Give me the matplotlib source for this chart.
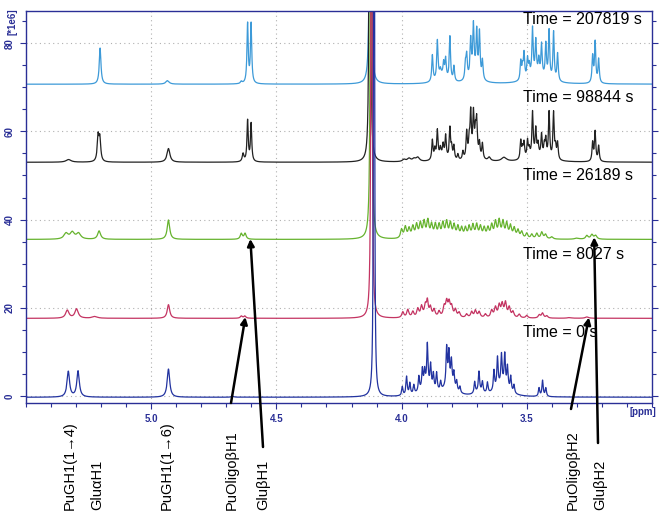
import numpy as np
import matplotlib.pyplot as plt
from matplotlib.ticker import MultipleLocator

plt.rcParams['font.family'] = ['Liberation Sans', 'DejaVu Sans']

# peak tables: (ppm, height [*1e6], half width [ppm])
peaks_t0 = [
    (5.331, 5.8, 0.006), (5.292, 5.9, 0.006), (4.931, 6.4, 0.006), (4.675, 0.2, 0.006),
    (4.110, 500, 0.0011),
    (3.997, 2.0, 0.003), (3.980, 4.2, 0.003), (3.967, 2.6, 0.003), (3.951, 2.0, 0.003),
    (3.931, 3.4, 0.003), (3.917, 4.4, 0.003), (3.908, 3.6, 0.003), (3.897, 9.5, 0.003),
    (3.884, 5.2, 0.003), (3.873, 3.5, 0.003), (3.860, 4.0, 0.003), (3.844, 2.0, 0.003),
    (3.820, 8.5, 0.003), (3.811, 7.0, 0.003), (3.801, 5.5, 0.003), (3.791, 3.5, 0.003),
    (3.780, 2.2, 0.003), (3.767, 1.4, 0.003), (3.708, 2.6, 0.003), (3.691, 4.5, 0.003),
    (3.677, 2.4, 0.003), (3.657, 2.4, 0.003), (3.631, 4.5, 0.003), (3.617, 6.8, 0.003),
    (3.601, 6.8, 0.003), (3.588, 7.2, 0.003), (3.577, 5.0, 0.003), (3.564, 3.4, 0.003),
    (3.551, 1.9, 0.003), (3.451, 1.9, 0.003), (3.437, 3.6, 0.003), (3.424, 1.9, 0.003),
    (3.90, 2.0, 0.03), (3.81, 2.5, 0.025), (3.60, 2.5, 0.03), (3.69, 0.8, 0.02),
]
peaks_t8027 = [
    (5.335, 1.8, 0.008), (5.298, 2.1, 0.008), (5.225, 0.4, 0.012), (4.931, 3.1, 0.006),
    (4.640, 0.5, 0.005), (4.626, 0.5, 0.005), (4.120, 500, 0.0012),
    (3.995, 1.3, 0.005), (3.975, 1.8, 0.005), (3.955, 1.3, 0.005), (3.935, 1.9, 0.005),
    (3.920, 2.4, 0.005), (3.905, 2.5, 0.005), (3.897, 3.3, 0.004), (3.885, 2.2, 0.005),
    (3.870, 1.7, 0.005), (3.850, 1.3, 0.005), (3.830, 2.2, 0.005), (3.820, 3.2, 0.005),
    (3.810, 3.0, 0.005), (3.800, 2.2, 0.005), (3.785, 1.7, 0.005), (3.770, 1.1, 0.005),
    (3.740, 0.8, 0.005), (3.720, 1.3, 0.005), (3.705, 1.6, 0.005), (3.690, 1.3, 0.005),
    (3.665, 0.8, 0.005), (3.640, 1.6, 0.005), (3.625, 2.2, 0.005), (3.610, 2.6, 0.005),
    (3.598, 2.8, 0.005), (3.585, 3.2, 0.005), (3.570, 2.2, 0.005), (3.555, 1.3, 0.005),
    (3.530, 0.8, 0.005), (3.500, 0.6, 0.005), (3.450, 0.7, 0.005), (3.437, 1.1, 0.005),
    (3.420, 0.5, 0.005), (3.330, 0.15, 0.01), (3.260, 0.3, 0.008),
]
peaks_t26189 = [
    (5.340, 1.3, 0.010), (5.315, 1.5, 0.010), (5.290, 1.3, 0.010), (5.208, 1.9, 0.007),
    (4.931, 4.4, 0.006), (4.640, 1.3, 0.005), (4.625, 1.3, 0.005), (4.122, 500, 0.0013),
    (4.000, 2.0, 0.005), (3.985, 2.5, 0.005), (3.970, 2.1, 0.005), (3.955, 2.5, 0.005),
    (3.940, 2.9, 0.005), (3.925, 3.2, 0.005), (3.910, 3.5, 0.005), (3.895, 3.8, 0.005),
    (3.880, 2.9, 0.005), (3.865, 2.9, 0.005), (3.850, 2.8, 0.005), (3.835, 3.2, 0.005),
    (3.820, 3.5, 0.005), (3.805, 3.2, 0.005), (3.790, 2.8, 0.005), (3.775, 2.5, 0.005),
    (3.760, 2.2, 0.005), (3.745, 2.2, 0.005), (3.730, 2.5, 0.005), (3.715, 2.8, 0.005),
    (3.700, 2.9, 0.005), (3.685, 2.5, 0.005), (3.670, 2.2, 0.005), (3.655, 2.2, 0.005),
    (3.640, 2.8, 0.005), (3.625, 3.5, 0.005), (3.610, 3.8, 0.005), (3.595, 3.5, 0.005),
    (3.580, 3.2, 0.005), (3.565, 2.7, 0.005), (3.550, 2.2, 0.005), (3.535, 1.8, 0.005),
    (3.520, 1.5, 0.005), (3.500, 1.2, 0.005), (3.480, 1.0, 0.005), (3.460, 1.2, 0.005),
    (3.440, 1.5, 0.005), (3.425, 1.0, 0.005), (3.400, 0.5, 0.006), (3.300, 0.25, 0.01),
    (3.260, 0.8, 0.006), (3.240, 1.0, 0.006), (3.225, 0.8, 0.006),
]
peaks_t98844 = [
    (5.330, 0.6, 0.012), (5.212, 5.6, 0.004), (5.205, 5.0, 0.004), (4.931, 3.1, 0.007),
    (4.633, 1.8, 0.004), (4.615, 9.3, 0.003), (4.601, 8.6, 0.003), (4.127, 500, 0.0012),
    (3.990, 0.5, 0.008), (3.970, 0.7, 0.008), (3.950, 0.6, 0.008), (3.935, 0.9, 0.008),
    (3.877, 4.5, 0.003), (3.867, 2.2, 0.003), (3.857, 6.3, 0.003), (3.845, 1.8, 0.003),
    (3.834, 2.6, 0.003), (3.824, 5.0, 0.003), (3.807, 7.0, 0.003), (3.800, 2.6, 0.003),
    (3.791, 3.1, 0.003), (3.775, 1.3, 0.003), (3.755, 1.8, 0.003), (3.740, 6.0, 0.003),
    (3.730, 3.6, 0.003), (3.724, 9.6, 0.003), (3.713, 9.0, 0.003), (3.705, 4.5, 0.003),
    (3.700, 7.5, 0.003), (3.689, 3.2, 0.003), (3.677, 3.5, 0.003), (3.650, 0.8, 0.006),
    (3.591, 0.9, 0.012), (3.524, 4.2, 0.003), (3.517, 2.2, 0.003), (3.511, 3.5, 0.003),
    (3.497, 3.9, 0.003), (3.490, 1.8, 0.003), (3.477, 10.0, 0.003), (3.464, 6.0, 0.003),
    (3.455, 2.6, 0.003), (3.441, 5.0, 0.003), (3.430, 2.6, 0.003), (3.424, 4.0, 0.003),
    (3.411, 10.5, 0.003), (3.393, 10.5, 0.003), (3.385, 2.6, 0.003), (3.377, 3.8, 0.003),
    (3.237, 4.2, 0.003), (3.227, 6.7, 0.003), (3.213, 3.5, 0.003),
    (3.84, 1.2, 0.02), (3.71, 1.5, 0.02), (3.46, 1.2, 0.04),
]
peaks_t207819 = [
    (5.204, 8.2, 0.004), (4.935, 0.8, 0.008), (4.640, 0.5, 0.004), (4.615, 13.5, 0.003),
    (4.601, 13.5, 0.003), (4.125, 500, 0.0012),
    (3.877, 6.0, 0.003), (3.857, 8.7, 0.003), (3.845, 1.3, 0.003), (3.832, 3.0, 0.003),
    (3.824, 4.3, 0.003), (3.807, 10.0, 0.003), (3.791, 3.4, 0.003), (3.745, 3.5, 0.003),
    (3.740, 5.2, 0.003), (3.724, 8.2, 0.003), (3.713, 10.8, 0.003), (3.700, 9.8, 0.003),
    (3.689, 10.2, 0.003), (3.677, 4.3, 0.003),
    (3.524, 4.3, 0.003), (3.517, 2.6, 0.003), (3.511, 5.8, 0.003), (3.497, 4.3, 0.003),
    (3.490, 2.6, 0.003), (3.477, 10.8, 0.003), (3.464, 7.7, 0.003), (3.452, 3.5, 0.003),
    (3.441, 7.2, 0.003), (3.424, 7.7, 0.003), (3.411, 11.0, 0.003), (3.393, 11.0, 0.003),
    (3.377, 6.3, 0.003), (3.237, 6.0, 0.003), (3.227, 9.2, 0.003), (3.213, 5.4, 0.003),
    (3.84, 1.8, 0.02), (3.71, 2.2, 0.02), (3.46, 1.8, 0.04),
]

times = ['Time = 0 s', 'Time = 8027 s', 'Time = 26189 s', 'Time = 98844 s', 'Time = 207819 s']
offsets = [-0.3, 17.6, 35.5, 53.0, 70.7]
colors = ['#2233a0', '#c43462', '#66b32e', '#222222', '#3d9ad8']
label_y = [14.5, 32.0, 49.9, 67.6, 85.3]
spectra = [peaks_t0, peaks_t8027, peaks_t26189, peaks_t98844, peaks_t207819]

assign_labels = ['PuGH1(1\u21924)', 'Glu\u03b1H1', 'PuGH1(1\u21926)', 'PuOligo\u03b2H1',
                 'Glu\u03b2H1', 'PuOligo\u03b2H2', 'Glu\u03b2H2']
assign_xpix = [70, 97, 167, 232, 263, 573, 600]

# arrows: tip (ppm, intensity), tail in figure pixels
arrow_tips = [(4.624, 17.9), (4.604, 35.6), (3.252, 17.8), (3.231, 36.0)]
arrow_tails = [(231, 116), (263, 72), (571, 110), (598, 76)]


def lorentz_sum(ppm, peaks):
    y = np.zeros_like(ppm)
    for c, h, w in peaks:
        y += h / (1 + ((ppm - c) / w) ** 2)
    return y


ppm = np.linspace(3.0, 5.5, 25000)
navy = '#2a2f96'

fig = plt.figure(figsize=(6.64, 5.19), dpi=100)
ax = fig.add_axes([26 / 664, 116 / 519, 626 / 664, 392 / 519])

for i in range(len(spectra) - 1, -1, -1):
    ax.plot(ppm, lorentz_sum(ppm, spectra[i]) + offsets[i], color=colors[i], lw=0.9)
    ax.text(3.515, label_y[i], times[i], fontsize=11.5, va='center', ha='left')

ax.set_xlim(5.5, 3.0)
ax.set_ylim(-1.6, 87.3)
ax.xaxis.set_major_locator(MultipleLocator(0.5))
ax.xaxis.set_minor_locator(MultipleLocator(0.1))
ax.yaxis.set_major_locator(MultipleLocator(20))
ax.yaxis.set_minor_locator(MultipleLocator(5))
ax.set_xticks([5.0, 4.5, 4.0, 3.5])
ax.set_xticklabels(['5.0', '4.5', '4.0', '3.5'])
ax.grid(True, which='major', color='#b0b0b0', ls=(0, (1, 3)), lw=0.8)
for s in ax.spines.values():
    s.set_color(navy)
    s.set_linewidth(1.0)
ax.tick_params(which='both', colors=navy, labelsize=7, direction='out', length=4,
               width=0.8, right=True, labelright=False, pad=4)
ax.tick_params(which='minor', length=3)
for t in ax.get_xticklabels():
    t.set_fontweight('bold')
for t in ax.get_yticklabels():
    t.set_fontweight('bold')
    t.set_rotation(90)
    t.set_va('center')

fig.text(643 / 664, 1 - 412 / 519, '[ppm]', color=navy, fontsize=7, fontweight='bold',
         ha='center', va='center')
fig.text(13 / 664, 1 - 22 / 519, '[*1e6]', color=navy, fontsize=7, fontweight='bold',
         ha='center', va='center', rotation=90)

for lab, xp in zip(assign_labels, assign_xpix):
    fig.text(xp / 664, 9 / 519, lab, rotation=90, ha='center', va='bottom', fontsize=10.5)

for tip, tail in zip(arrow_tips, arrow_tails):
    ax.annotate('', xy=tip, xycoords='data', xytext=tail, textcoords='figure pixels',
                arrowprops=dict(arrowstyle='-|>', color='k', lw=1.8, mutation_scale=10,
                                shrinkA=0, shrinkB=0),
                annotation_clip=False)

fig.savefig('out.png', dpi=100)
